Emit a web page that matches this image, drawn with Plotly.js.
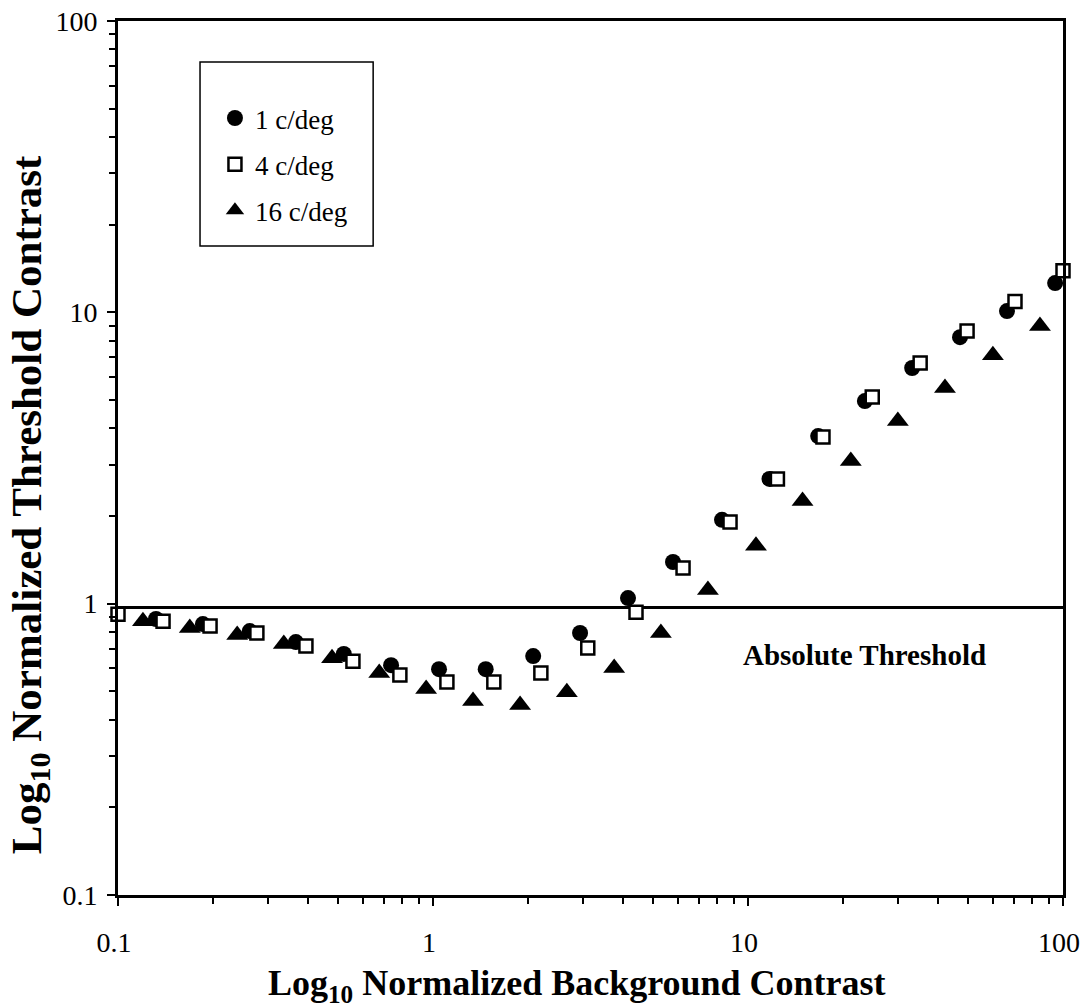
<!DOCTYPE html>
<html>
<head>
<meta charset="utf-8">
<script src="https://cdn.plot.ly/plotly-3.0.1.min.js"></script>
<style>html,body{margin:0;padding:0;background:#fff;}#chart{width:1081px;height:1008px;}</style>
</head>
<body>
<div id="chart"></div>
<script>
// 1 c/deg (filled circles)
const x1 = [0.132, 0.186, 0.262, 0.367, 0.521, 0.736, 1.045, 1.47, 2.08, 2.93, 4.16, 5.78, 8.27, 11.7, 16.7, 23.5, 33.2, 47.1, 66.4, 94.4];
const y1 = [0.886, 0.851, 0.805, 0.738, 0.672, 0.615, 0.596, 0.596, 0.661, 0.793, 1.045, 1.39, 1.94, 2.68, 3.76, 4.96, 6.44, 8.22, 10.1, 12.6];
// 4 c/deg (open squares)
const x4 = [0.1, 0.139, 0.196, 0.276, 0.395, 0.557, 0.785, 1.107, 1.56, 2.20, 3.10, 4.41, 6.22, 8.77, 12.4, 17.3, 24.8, 35.2, 49.6, 70.4, 100];
const y4 = [0.92, 0.871, 0.838, 0.793, 0.715, 0.635, 0.569, 0.538, 0.538, 0.578, 0.704, 0.935, 1.325, 1.905, 2.68, 3.73, 5.12, 6.70, 8.63, 10.9, 13.9];
// 16 c/deg (filled triangles)
const x16 = [0.120, 0.169, 0.239, 0.336, 0.478, 0.675, 0.951, 1.34, 1.89, 2.66, 3.76, 5.29, 7.46, 10.6, 14.9, 21.2, 29.9, 42.2, 59.9, 84.5];
const y16 = [0.871, 0.825, 0.780, 0.727, 0.650, 0.578, 0.509, 0.463, 0.449, 0.497, 0.601, 0.793, 1.114, 1.58, 2.25, 3.09, 4.24, 5.50, 7.13, 8.97];
// absolute threshold line
const thrX = [0.1, 100];
const thrY = [0.97, 0.97];

const seriesNames = ['1 c/deg', '4 c/deg', '16 c/deg'];
const majorVals = [0.1, 1, 10, 100];
const majorText = ['0.1', '1', '10', '100'];
const xTitle = '<b>Log<sub>10</sub> Normalized Background Contrast</b>';
const yTitle = '<b>Log<sub>10</sub> Normalized Threshold Contrast</b>';
const thrLabel = '<b>Absolute Threshold</b>';
const minorVals = [];
[0.1, 1, 10].forEach(d => { for (let k = 2; k <= 9; k++) minorVals.push(+(d * k).toPrecision(3)); });

const FONT = 'Liberation Serif, Times New Roman, serif';

const traces = [
  {x: thrX, y: thrY, mode: 'lines', line: {color: '#000', width: 3}, showlegend: false, hoverinfo: 'skip', cliponaxis: false},
  {x: x1, y: y1, name: seriesNames[0], mode: 'markers', legendgroup: 'a', cliponaxis: false,
   marker: {symbol: 'circle', size: 16, color: '#000'}},
  {x: x4, y: y4, name: seriesNames[1], mode: 'markers', legendgroup: 'b', cliponaxis: false,
   marker: {symbol: 'square', size: 13, color: '#fff', line: {color: '#000', width: 2.5}}},
  {x: x16, y: y16, name: seriesNames[2], mode: 'markers', legendgroup: 'c', cliponaxis: false,
   marker: {symbol: 'triangle-up', size: 19, color: '#000'}}
];

const axisCommon = {
  type: 'log', showgrid: false, zeroline: false,
  showline: true, linecolor: '#000', linewidth: 3, mirror: true,
  ticks: 'outside', ticklen: 8, tickwidth: 2, tickcolor: '#000',
  tickmode: 'array', tickvals: majorVals, ticktext: majorText,
  ticklabeloverflow: 'allow',
  tickfont: {family: FONT, size: 28, color: '#000'},
  minor: {tickmode: 'array', tickvals: minorVals, ticks: 'outside', ticklen: 6, tickwidth: 2, tickcolor: '#000', showgrid: false}
};

const layout = {
  width: 1081, height: 1008,
  margin: {l: 118, r: 18, t: 21, b: 113},
  paper_bgcolor: '#fff', plot_bgcolor: '#fff',
  font: {family: FONT, color: '#000'},
  showlegend: true,
  legend: {
    x: 0.1026, y: 0.9165, xanchor: 'left', yanchor: 'top',
    bgcolor: 'rgba(0,0,0,0)', borderwidth: 0,
    font: {family: FONT, size: 27, color: '#000'},
    traceorder: 'grouped', tracegroupgap: 8
  },
  shapes: [{
    type: 'rect', xref: 'paper', yref: 'paper',
    x0: 0.0868, x1: 0.270, y0: 0.7426, y1: 0.953,
    line: {color: '#000', width: 1.5}, fillcolor: 'rgba(0,0,0,0)', layer: 'below'
  }],
  xaxis: Object.assign({}, axisCommon, {
    range: [-1, 2],
    ticklabelstandoff: 12,
    ticklabelshift: -4
  }),
  yaxis: Object.assign({}, axisCommon, {
    range: [-1, 2],
    ticklabelstandoff: 4
  }),
  annotations: [
    {xref: 'paper', yref: 'paper', x: 0.79, y: 0.275, xanchor: 'center', yanchor: 'middle', showarrow: false,
     text: thrLabel, font: {family: FONT, size: 29, color: '#000'}},
    {xref: 'paper', yref: 'paper', x: 0.486, y: -0.103, xanchor: 'center', yanchor: 'middle', showarrow: false,
     text: xTitle, font: {family: FONT, size: 36, color: '#000'}},
    {xref: 'paper', yref: 'paper', x: -0.0931, y: 0.446, xanchor: 'center', yanchor: 'middle', showarrow: false,
     textangle: -90, text: yTitle, font: {family: FONT, size: 43, color: '#000'}}
  ]
};

Plotly.newPlot('chart', traces, layout, {displayModeBar: false, staticPlot: true});
</script>
</body>
</html>
